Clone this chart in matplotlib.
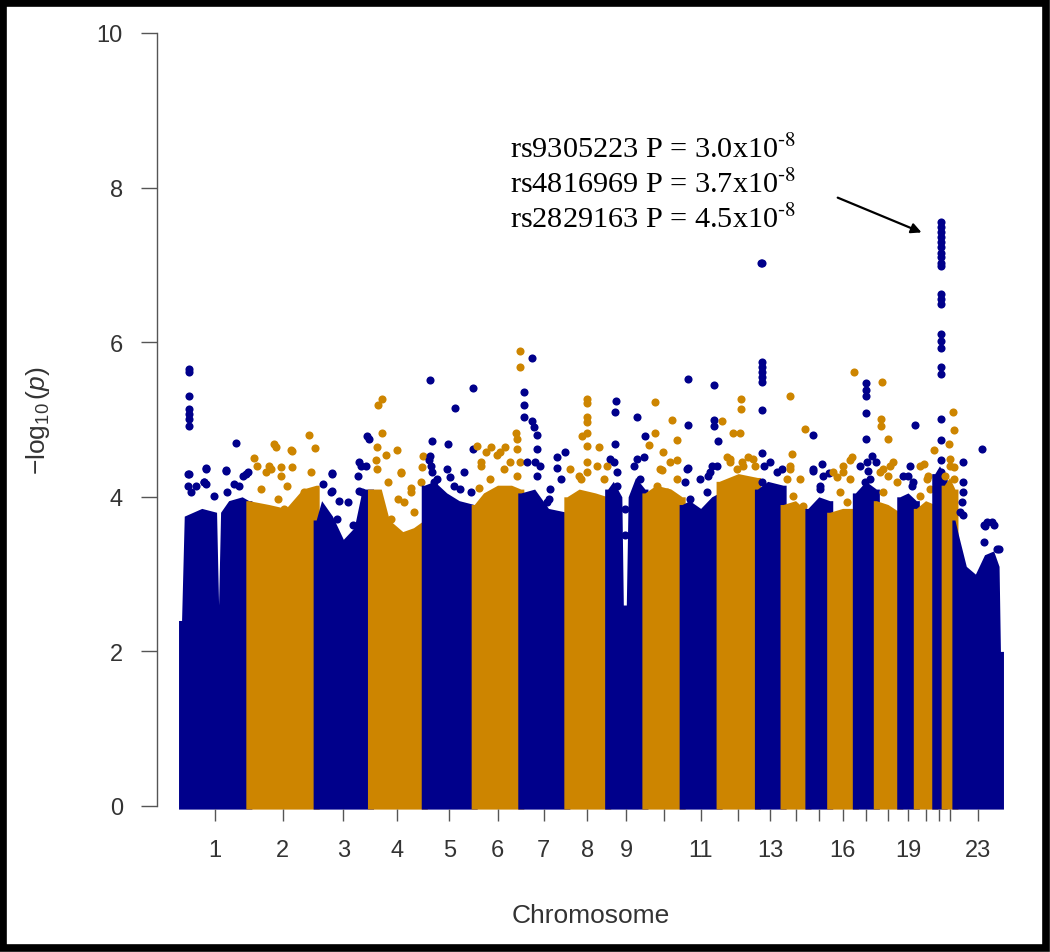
import numpy as np
import matplotlib.pyplot as plt
from matplotlib.patches import Rectangle

plt.rcParams['font.family'] = ['Liberation Sans', 'DejaVu Sans']
plt.rcParams['mathtext.fontset'] = 'custom'
plt.rcParams['mathtext.rm'] = 'Liberation Sans'
plt.rcParams['mathtext.it'] = 'Liberation Sans:italic'

#===== chromosome layout (Mb covered by SNPs) =====#
chrom_labels = [str(c) for c in range(1, 24)]
chrom_span = [244, 244, 197, 195, 181, 169, 167, 148, 135, 135, 134, 139,
              93, 90, 79, 93, 76, 85, 60, 67, 34, 39, 165]
tick_shown = ['1', '2', '3', '4', '5', '6', '7', '8', '9', '', '11', '', '13',
              '', '', '16', '', '', '19', '', '', '', '23']
colors = ['#00008B', '#CD8500']

# upper edge of the solid cloud of SNPs, (fraction along chromosome, -log10 p)
dense_top = [
    [(0, 2.4), (0.04, 3.75), (0.3, 3.85), (0.52, 3.8), (0.55, 2.6), (0.58, 3.8), (0.7, 3.95), (0.9, 4.0), (1, 3.95)],
    [(0, 3.95), (0.3, 3.9), (0.55, 3.85), (0.8, 4.1), (1, 4.15)],
    [(0, 3.7), (0.1, 3.95), (0.3, 3.75), (0.5, 3.45), (0.7, 3.6), (0.85, 4.1), (1, 4.1)],
    [(0, 4.1), (0.2, 4.1), (0.35, 3.7), (0.6, 3.55), (0.8, 3.6), (1, 3.7)],
    [(0, 4.15), (0.2, 4.2), (0.45, 4.05), (0.7, 3.95), (1, 3.9)],
    [(0, 3.9), (0.2, 4.05), (0.5, 4.15), (0.8, 4.15), (1, 4.1)],
    [(0, 4.05), (0.3, 4.1), (0.6, 3.85), (1, 3.8)],
    [(0, 4.0), (0.3, 4.1), (0.7, 4.05), (1, 4.0)],
    [(0, 4.1), (0.15, 4.2), (0.38, 4.0), (0.42, 2.6), (0.5, 2.6), (0.55, 4.0), (0.75, 4.25), (1, 4.1)],
    [(0, 4.05), (0.3, 4.15), (0.7, 4.1), (1, 4.0)],
    [(0, 3.9), (0.2, 3.95), (0.5, 3.85), (0.8, 4.0), (1, 4.05)],
    [(0, 4.2), (0.5, 4.3), (1, 4.25)],
    [(0, 4.1), (0.4, 4.2), (1, 4.15)],
    [(0, 3.9), (0.5, 3.95), (1, 3.8)],
    [(0, 3.85), (0.5, 4.0), (1, 3.95)],
    [(0, 3.8), (0.5, 3.85), (1, 3.85)],
    [(0, 4.05), (0.5, 4.2), (1, 4.1)],
    [(0, 3.95), (0.5, 3.9), (1, 3.8)],
    [(0, 4.0), (0.5, 4.05), (1, 3.95)],
    [(0, 3.85), (0.5, 3.95), (1, 3.9)],
    [(0, 4.3), (0.5, 4.4), (1, 4.3)],
    [(0, 4.15), (0.5, 4.25), (1, 4.1)],
    [(0, 3.7), (0.08, 3.5), (0.25, 3.1), (0.45, 3.0), (0.65, 3.25), (0.85, 3.3), (0.97, 3.1), (1, 2.0)],
]

# single SNPs standing above the cloud: (chromosome, position Mb, -log10 p)
top_hits = [
    (1, 28, 5.65), (1, 28, 5.62), (1, 28, 5.31), (1, 28, 5.14), (1, 28, 5.07), (1, 28, 5.01),
    (1, 28, 4.92), (1, 197, 4.69), (1, 28, 4.29), (1, 88, 4.37), (1, 160, 4.35), (1, 88, 4.17),
    (1, 233, 4.29), (1, 22, 4.14), (1, 81, 4.19), (1, 166, 4.06), (1, 207, 4.14),
    (1, 22, 4.30), (1, 88, 4.36), (1, 160, 4.34), (1, 82, 4.19), (1, 34, 4.06), (1, 221, 4.27),
    (1, 240, 4.32), (1, 52, 4.14), (1, 118, 4.01), (1, 190, 4.17),
    (2, 19, 4.50), (2, 98, 4.65), (2, 158, 4.59), (2, 218, 4.80), (2, 239, 4.63), (2, 73, 4.40),
    (2, 116, 4.38), (2, 158, 4.38), (2, 62, 4.32), (2, 92, 4.68), (2, 152, 4.60),
    (2, 31, 4.40), (2, 80, 4.36), (2, 116, 4.27), (2, 43, 4.10), (2, 104, 3.97), (2, 140, 4.14),
    (2, 224, 4.32), (2, 200, 4.06), (2, 128, 3.84),
    (3, 56, 4.31), (3, 59, 4.07), (3, 83, 3.94), (3, 186, 4.79), (3, 192, 4.75), (3, 156, 4.45),
    (3, 180, 4.40), (3, 150, 4.27), (3, 23, 4.17), (3, 53, 4.06), (3, 154, 4.08),
    (3, 59, 4.29), (3, 114, 3.93), (3, 77, 3.71), (3, 162, 4.40), (3, 168, 4.06), (3, 132, 3.63),
    (4, 43, 5.27), (4, 28, 5.19), (4, 43, 4.83), (4, 25, 4.65), (4, 55, 4.54), (4, 95, 4.61),
    (4, 112, 4.31), (4, 19, 4.47), (4, 62, 4.19), (4, 188, 4.38), (4, 190, 4.53), (4, 98, 3.97),
    (4, 146, 4.12), (4, 25, 4.36), (4, 110, 4.32), (4, 122, 3.93), (4, 158, 3.80), (4, 182, 4.19),
    (4, 73, 3.71), (4, 146, 4.06),
    (5, 20, 5.51), (5, 113, 5.15), (5, 175, 5.41), (5, 29, 4.72), (5, 85, 4.68), (5, 20, 4.53),
    (5, 17, 4.47), (5, 29, 4.32), (5, 95, 4.25), (5, 131, 4.10), (5, 176, 4.62), (5, 34, 4.19),
    (5, 23, 4.40), (5, 47, 4.23), (5, 107, 4.14), (5, 143, 4.32), (5, 168, 4.06), (5, 83, 4.36),
    (6, 11, 4.66), (6, 41, 4.58), (6, 83, 4.54), (6, 113, 4.65), (6, 150, 4.83), (6, 156, 4.75),
    (6, 165, 5.89), (6, 165, 5.68), (6, 23, 4.45), (6, 17, 4.11), (6, 167, 4.45), (6, 156, 4.62),
    (6, 60, 4.64), (6, 95, 4.58), (6, 23, 4.40), (6, 59, 4.23), (6, 107, 4.36), (6, 156, 4.27),
    (6, 131, 4.45),
    (7, 39, 5.79), (7, 13, 5.35), (7, 13, 5.19), (7, 13, 5.03), (7, 41, 4.98), (7, 47, 4.90),
    (7, 59, 4.80), (7, 59, 4.62), (7, 53, 4.45), (7, 71, 4.40), (7, 132, 4.52), (7, 162, 4.58),
    (7, 132, 4.37), (7, 101, 3.97), (7, 23, 4.45), (7, 59, 4.27), (7, 107, 4.10), (7, 144, 4.23),
    (7, 96, 3.93),
    (8, 74, 5.27), (8, 74, 5.21), (8, 74, 5.03), (8, 74, 4.97), (8, 74, 4.83), (8, 74, 4.66),
    (8, 56, 4.79), (8, 116, 4.64), (8, 74, 4.45), (8, 74, 4.32), (8, 146, 4.40), (8, 43, 4.27),
    (8, 13, 4.36), (8, 50, 4.23), (8, 110, 4.40), (8, 134, 4.23),
    (9, 31, 5.24), (9, 28, 5.10), (9, 28, 4.68), (9, 106, 5.03), (9, 134, 4.79), (9, 10, 4.49),
    (9, 34, 4.32), (9, 106, 4.49), (9, 130, 4.51), (9, 22, 4.45), (9, 94, 4.40), (9, 118, 4.23),
    (9, 34, 4.14), (9, 106, 4.06), (9, 62, 3.84), (9, 64, 3.50),
    (10, 37, 5.23), (10, 98, 5.00), (10, 37, 4.82), (10, 13, 4.67), (10, 64, 4.58), (10, 116, 4.73),
    (10, 62, 4.35), (10, 116, 4.48), (10, 55, 4.36), (10, 92, 4.45), (10, 43, 4.14), (10, 116, 4.23),
    (10, 80, 4.06),
    (11, 23, 5.53), (11, 23, 4.93), (11, 117, 5.44), (11, 117, 5.00), (11, 117, 4.92), (11, 23, 4.37),
    (11, 11, 4.19), (11, 108, 4.40), (11, 95, 4.27), (11, 130, 4.72), (11, 17, 4.36), (11, 65, 4.23),
    (11, 101, 4.32), (11, 29, 3.97), (11, 89, 4.06), (11, 126, 4.40),
    (12, 10, 4.98), (12, 80, 5.27), (12, 80, 5.14), (12, 52, 4.83), (12, 76, 4.83), (12, 28, 4.51),
    (12, 40, 4.49), (12, 106, 4.51), (12, 82, 4.45), (12, 130, 4.40), (12, 40, 4.45), (12, 88, 4.40),
    (12, 124, 4.49), (12, 64, 4.36),
    (13, 14, 7.03), (13, 15, 7.02), (13, 16, 5.74), (13, 16, 5.68), (13, 16, 5.61), (13, 16, 5.55),
    (13, 16, 5.48), (13, 16, 5.12), (13, 16, 4.57), (13, 16, 4.19), (13, 88, 4.36),
    (13, 22, 4.40), (13, 70, 4.32), (13, 46, 4.45),
    (14, 25, 5.31), (14, 80, 4.88), (14, 31, 4.55), (14, 25, 4.40), (14, 13, 4.23),
    (14, 25, 4.36), (14, 62, 4.23), (14, 37, 4.01), (14, 73, 3.88),
    (15, 19, 4.80), (15, 50, 4.43), (15, 19, 4.34), (15, 76, 4.31), (15, 43, 4.14),
    (15, 19, 4.36), (15, 55, 4.27), (15, 43, 4.10),
    (16, 88, 5.61), (16, 80, 4.51), (16, 49, 4.32), (16, 25, 4.25), (16, 73, 4.47),
    (16, 13, 4.32), (16, 49, 4.40), (16, 73, 4.23), (16, 37, 4.06), (16, 62, 3.93),
    (17, 39, 5.47), (17, 39, 5.38), (17, 39, 5.31), (17, 39, 5.08), (17, 39, 4.75), (17, 59, 4.53),
    (17, 75, 4.45), (17, 47, 4.34), (17, 35, 4.19), (17, 17, 4.40), (17, 53, 4.23), (17, 41, 4.45),
    (18, 20, 5.48), (18, 16, 5.01), (18, 16, 4.92), (18, 41, 4.75), (18, 43, 4.27), (18, 25, 4.36),
    (18, 62, 4.45), (18, 13, 4.32), (18, 50, 4.40), (18, 74, 4.19), (18, 25, 4.06),
    (19, 55, 4.93), (19, 31, 4.27), (19, 43, 4.14), (19, 13, 4.27), (19, 37, 4.40), (19, 49, 4.19),
    (20, 28, 4.42), (20, 64, 4.60), (20, 43, 4.27), (20, 13, 4.01), (20, 13, 4.40), (20, 38, 4.23),
    (20, 50, 4.10),
    (21, 21, 7.55), (21, 21, 7.49), (21, 21, 7.42), (21, 21, 7.36), (21, 21, 7.29), (21, 21, 7.23),
    (21, 21, 7.16), (21, 21, 7.10), (21, 21, 7.03), (21, 21, 6.99), (21, 21, 6.62), (21, 21, 6.56),
    (21, 21, 6.49), (21, 21, 6.11), (21, 21, 6.02), (21, 21, 5.93), (21, 21, 5.68), (21, 21, 5.59),
    (21, 21, 5.01), (21, 21, 4.73), (21, 21, 4.47), (21, 21, 4.32),
    (22, 33, 5.10), (22, 34, 4.86), (22, 16, 4.68), (22, 22, 4.49), (22, 34, 4.38), (22, 4, 4.27),
    (22, 22, 4.40), (22, 34, 4.23),
    (23, 98, 4.62), (23, 31, 4.45), (23, 29, 4.19), (23, 25, 3.93), (23, 31, 3.76), (23, 104, 3.63),
    (23, 134, 3.67), (23, 152, 3.32), (23, 110, 3.62), (23, 31, 4.06), (23, 19, 3.80),
    (23, 116, 3.67), (23, 140, 3.63), (23, 104, 3.41), (23, 160, 3.32),
]

lead_snps = ['rs9305223 P = 3.0x10$^{\\text{-8}}$',
             'rs4816969 P = 3.7x10$^{\\text{-8}}$',
             'rs2829163 P = 4.5x10$^{\\text{-8}}$']

#===== plot =====#
offsets = np.concatenate([[0], np.cumsum(chrom_span)[:-1]])
total = float(sum(chrom_span))
r = 11  # dot radius in Mb units

fig = plt.figure(figsize=(10.5, 9.53), dpi=100)
ax = fig.add_axes([157/1050, 1 - 807/953, 868/1050, 773/953])

for i in range(len(chrom_span)):
    col = colors[i % 2]
    fr, top = zip(*dense_top[i])
    xs = offsets[i] + np.array(fr) * chrom_span[i]
    xs = np.concatenate([[offsets[i] - r], xs, [offsets[i] + chrom_span[i] + r]])
    ys = np.concatenate([[top[0]], top, [top[-1]]])
    ax.fill_between(xs, -0.04, ys, color=col, lw=0, clip_on=False)
    hx = [offsets[i] + p for c, p, v in top_hits if c == i + 1]
    hy = [v for c, p, v in top_hits if c == i + 1]
    ax.scatter(hx, hy, s=34, color=col, lw=0, clip_on=False)

ax.set_xlim(-0.03 * total, 1.03 * total)
ax.set_ylim(0, 10)

for s in ['top', 'right', 'bottom']:
    ax.spines[s].set_visible(False)
ax.spines['bottom'].set_position(('outward', 2.2))
ax.spines['left'].set_color('#555555')
ax.spines['left'].set_linewidth(1.0)

ax.set_yticks([0, 2, 4, 6, 8, 10])
ax.tick_params(axis='y', length=11.5, width=1.0, color='#555555', pad=13,
               labelsize=17, labelcolor='#333333')
ax.set_xticks(offsets + np.array(chrom_span) / 2)
ax.set_xticklabels(tick_shown)
ax.tick_params(axis='x', length=8.6, width=1.0, color='#555555', pad=13,
               labelsize=17, labelcolor='#333333')

ax.set_xlabel('Chromosome', fontsize=19, color='#333333')
ax.xaxis.set_label_coords(0.5, -0.126)
ax.set_ylabel(r'$-\log_{10}(p)$', fontsize=19, color='#333333')
ax.yaxis.set_label_coords(-0.121, 0.5)

# arrow pointing at the chromosome 21 hit
peak = max([h for h in top_hits if h[0] == 21], key=lambda h: h[2])
peak_x = offsets[20] + peak[1]
tip = (peak_x - 69, peak[2] - 0.13)
tail = (tip[0] - 304, tip[1] + 0.45)
ax.annotate('', xy=tip, xytext=tail,
            arrowprops=dict(arrowstyle='-|>', color='black', lw=1.6,
                            mutation_scale=15, shrinkA=0, shrinkB=0))

for k, line in enumerate(lead_snps):
    fig.text(510/1050, 1 - (158.3 + 35*k)/953, line, fontsize=21.8,
             family='Liberation Serif', math_fontfamily='stix',
             va='baseline', ha='left', color='black')

fig.patches.append(Rectangle((0.0033, 0.0042), 0.9929, 0.9921, transform=fig.transFigure,
                             fill=False, lw=5.5, ec='black'))

fig.savefig('out.png', dpi=100)
